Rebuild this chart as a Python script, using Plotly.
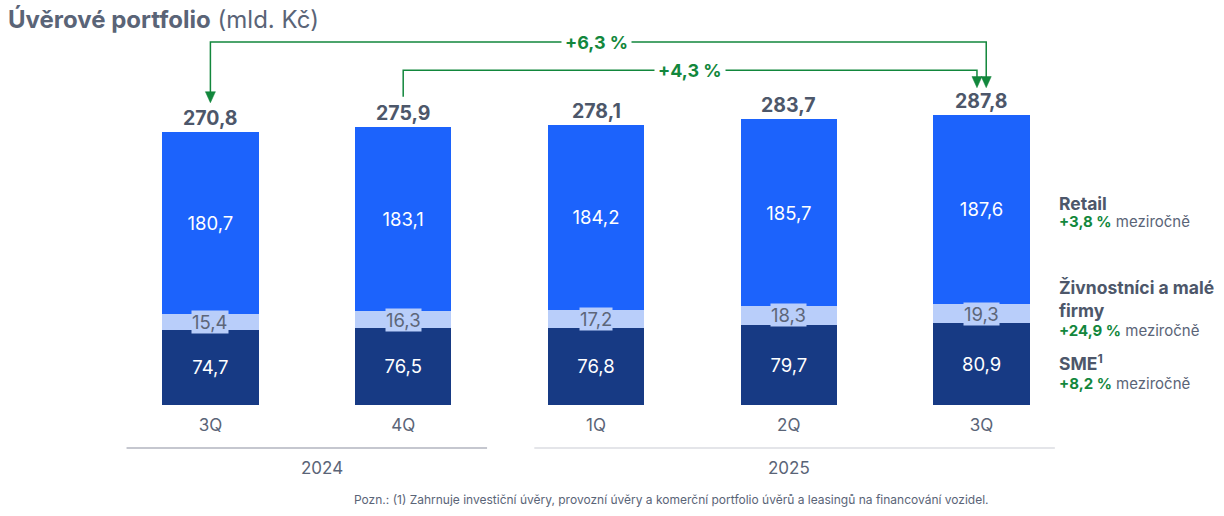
import plotly.graph_objects as go

quarters = ["3Q", "4Q", "1Q", "2Q", "3Q"]
years = ["2024", "2025"]
sme = [74.7, 76.5, 76.8, 79.7, 80.9]
small_firms = [15.4, 16.3, 17.2, 18.3, 19.3]
retail = [180.7, 183.1, 184.2, 185.7, 187.6]
totals = [270.8, 275.9, 278.1, 283.7, 287.8]
growth_labels = ["+6,3 %", "+4,3 %"]
legend_names = ["Retail", "Živnostníci a malé<br>firmy", "SME<sup>1</sup>"]
legend_growth = ["+3,8 %", "+24,9 %", "+8,2 %"]

C_SME = "#173a84"
C_MID = "#b9cefa"
C_RET = "#1c63fc"
GRAY = "#5a6477"
DARK = "#4d576a"
GREEN = "#12873c"
FONT = "Inter"

def fmt(v):
    return f"{v:.1f}".replace(".", ",")

x = list(range(len(quarters)))
fig = go.Figure()
fig.add_bar(x=x, y=sme, marker_color=C_SME, width=0.5, text=[fmt(v) for v in sme],
            textposition="inside", insidetextanchor="middle", textangle=0,
            textfont=dict(color="white", size=18.5, family=FONT), hoverinfo="skip",
            marker_line_width=0)
fig.add_bar(x=x, y=small_firms, marker_color=C_MID, width=0.5, hoverinfo="skip",
            marker_line_width=0)
fig.add_bar(x=x, y=retail, marker_color=C_RET, width=0.5, text=[fmt(v) for v in retail],
            textposition="inside", insidetextanchor="middle", textangle=0,
            textfont=dict(color="white", size=18.5, family=FONT), hoverinfo="skip",
            marker_line_width=0)

annotations = []
for i in x:
    annotations.append(dict(x=i, y=sme[i] + small_firms[i] / 2, xref="x", yref="y",
                            text=fmt(small_firms[i]), showarrow=False, yanchor="middle",
                            font=dict(size=18.5, color="#5d6679", family=FONT),
                            bgcolor=C_MID, borderpad=0))
    annotations.append(dict(x=i, y=totals[i], xref="x", yref="y", text=f"<b>{fmt(totals[i])}</b>",
                            showarrow=False, yanchor="bottom", yshift=0,
                            font=dict(size=19.5, color=DARK, family=FONT)))

shapes = []
outer_y = 360
inner_y = 332
off = 0.024
tip_last = totals[4] + 27
hw, hh = 0.026, 11
shapes.append(dict(type="path", xref="x", yref="y",
                   path=f"M 0,{totals[0] + 31} L 0,{outer_y} L {4 + off},{outer_y} L {4 + off},{tip_last + 6}",
                   line=dict(color=GREEN, width=1.5)))
shapes.append(dict(type="path", xref="x", yref="y",
                   path=f"M 1,{totals[1] + 30} L 1,{inner_y} L {4 - off},{inner_y} L {4 - off},{tip_last + 6}",
                   line=dict(color=GREEN, width=1.5)))
for (ax_, tip) in [(0, totals[0] + 29), (4 + off, tip_last), (4 - off, tip_last)]:
    shapes.append(dict(type="path", xref="x", yref="y",
                       path=f"M {ax_},{tip} L {ax_ - hw},{tip + hh} L {ax_ + hw},{tip + hh} Z",
                       fillcolor=GREEN, line=dict(color=GREEN, width=0.5)))
annotations.append(dict(x=2.0, y=outer_y, xref="x", yref="y", text=f"<b>{growth_labels[0]}</b>",
                        showarrow=False, bgcolor="white", borderpad=3, yanchor="middle",
                        font=dict(size=18, color=GREEN, family=FONT)))
annotations.append(dict(x=2.49, y=inner_y, xref="x", yref="y", text=f"<b>{growth_labels[1]}</b>",
                        showarrow=False, bgcolor="white", borderpad=3, yanchor="middle",
                        font=dict(size=18, color=GREEN, family=FONT)))

def py2paper(py):
    return (405 - py) / 375

shapes.append(dict(type="line", xref="x", yref="paper", x0=-0.435, x1=1.435,
                   y0=py2paper(448), y1=py2paper(448), line=dict(color="#8c90a0", width=1.2)))
shapes.append(dict(type="line", xref="x", yref="paper", x0=1.68, x1=4.38,
                   y0=py2paper(448), y1=py2paper(448), line=dict(color="#c9ccd4", width=1.2)))
annotations.append(dict(x=0.58, y=py2paper(468), xref="x", yref="paper", text=years[0],
                        showarrow=False, yanchor="middle",
                        font=dict(size=17, color=GRAY, family=FONT)))
annotations.append(dict(x=3.0, y=py2paper(468), xref="x", yref="paper", text=years[1],
                        showarrow=False, yanchor="middle",
                        font=dict(size=17, color=GRAY, family=FONT)))

lx = (1057 - 113.5) / 965
heads = [(203, legend_names[0]), (299, legend_names[1]), (362, legend_names[2])]
subs = [(221, legend_growth[0]), (330, legend_growth[1]), (383, legend_growth[2])]
for py, t in heads:
    annotations.append(dict(x=lx, y=py2paper(py), xref="paper", yref="paper", xanchor="left",
                            yanchor="middle", align="left", text=f"<b>{t}</b>", showarrow=False,
                            font=dict(size=17.5, color=DARK, family=FONT)))
for py, g in subs:
    annotations.append(dict(x=lx, y=py2paper(py), xref="paper", yref="paper", xanchor="left",
                            yanchor="middle", align="left",
                            text=f"<span style='color:{GREEN}'><b>{g}</b></span> meziročně",
                            showarrow=False, font=dict(size=15, color=GRAY, family=FONT)))

annotations.append(dict(x=(672 - 113.5) / 965, y=py2paper(499), xref="paper", yref="paper",
                        yanchor="middle",
                        text="Pozn.: (1) Zahrnuje investiční úvěry, provozní úvěry a komerční portfolio úvěrů a leasingů na financování vozidel.",
                        showarrow=False, font=dict(size=12, color=GRAY, family=FONT)))

fig.update_layout(
    barmode="stack",
    width=1224, height=516,
    margin=dict(l=113.5, r=145.5, t=30, b=111),
    paper_bgcolor="white", plot_bgcolor="white",
    showlegend=False,
    title=dict(text="<b>Úvěrové portfolio</b> (mld. Kč)", x=8 / 1224, xanchor="left",
               y=1 - 20 / 516, yanchor="middle", xref="container", yref="container",
               font=dict(size=24, color=GRAY, family=FONT)),
    xaxis=dict(range=[-0.5, 4.5], tickvals=x, ticktext=quarters, showgrid=False,
               zeroline=False, showline=False, ticks="", ticklabelstandoff=8,
               tickfont=dict(size=17, color=GRAY, family=FONT)),
    yaxis=dict(range=[0, 372], visible=False),
    annotations=annotations,
    shapes=shapes,
    font=dict(family=FONT),
    uniformtext=dict(minsize=10, mode="show"),
)
fig.write_html("out.html", config={"displayModeBar": False},
               post_script="document.body.style.margin='0';document.body.style.padding='0';")
